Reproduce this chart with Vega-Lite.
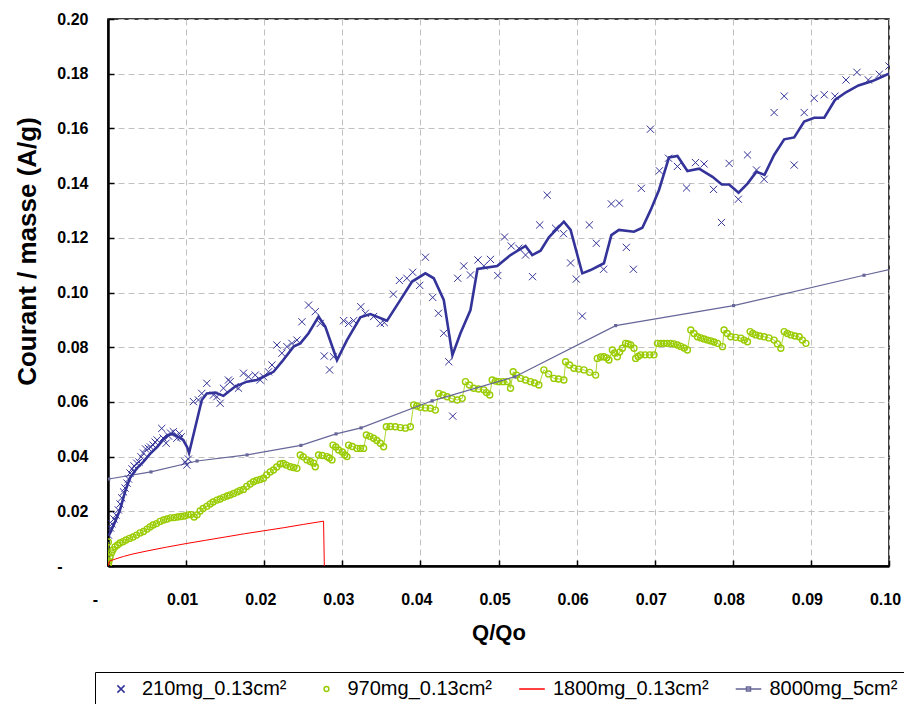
{
"$schema":"https://vega.github.io/schema/vega-lite/v6.json",
"width":781,"height":547,
"autosize":{"type":"none"},
"padding":{"left":108,"top":19,"right":15,"bottom":138},
"background":"white",
"config":{
 "view":{"stroke":"#000","strokeWidth":1.5},
 "axis":{"domainColor":"#000","domainWidth":2.5,"tickColor":"#000","tickWidth":1.5,"tickSize":-6,"gridColor":"#c0c0c0","gridDash":[6,4],"gridWidth":1,"labelFont":"Liberation Sans","labelFontWeight":"bold","labelFontSize":16,"labelColor":"#000","titleFont":"Liberation Sans","titleFontWeight":"bold","titleColor":"#000"}
},
"datasets":{
"s210":[{"x":0.00006,"y":0.0113},{"x":0.00032,"y":0.0139},{"x":0.00051,"y":0.0154},{"x":0.00077,"y":0.0172},{"x":0.00103,"y":0.0186},{"x":0.00132,"y":0.0205},{"x":0.00154,"y":0.0227},{"x":0.00176,"y":0.0249},{"x":0.00199,"y":0.0271},{"x":0.00218,"y":0.0285},{"x":0.00244,"y":0.0303},{"x":0.00263,"y":0.0318},{"x":0.00282,"y":0.034},{"x":0.00308,"y":0.0355},{"x":0.00333,"y":0.0366},{"x":0.00368,"y":0.0376},{"x":0.00397,"y":0.038},{"x":0.00423,"y":0.0399},{"x":0.00453,"y":0.0413},{"x":0.00481,"y":0.0428},{"x":0.00517,"y":0.043},{"x":0.00545,"y":0.0435},{"x":0.00577,"y":0.0442},{"x":0.00603,"y":0.0453},{"x":0.00628,"y":0.0461},{"x":0.00688,"y":0.0503},{"x":0.00705,"y":0.0468},{"x":0.00744,"y":0.0449},{"x":0.00776,"y":0.0475},{"x":0.00801,"y":0.0486},{"x":0.00837,"y":0.0491},{"x":0.00881,"y":0.0467},{"x":0.00914,"y":0.0485},{"x":0.00936,"y":0.0472},{"x":0.00987,"y":0.0381},{"x":0.01009,"y":0.0369},{"x":0.01029,"y":0.0391},{"x":0.01094,"y":0.0601},{"x":0.01158,"y":0.0607},{"x":0.01201,"y":0.0631},{"x":0.01265,"y":0.0668},{"x":0.0135,"y":0.0625},{"x":0.01394,"y":0.0619},{"x":0.01436,"y":0.0595},{"x":0.01478,"y":0.065},{"x":0.01542,"y":0.068},{"x":0.01564,"y":0.0674},{"x":0.01628,"y":0.0656},{"x":0.01671,"y":0.065},{"x":0.01735,"y":0.0705},{"x":0.01799,"y":0.0692},{"x":0.01885,"y":0.0698},{"x":0.01949,"y":0.068},{"x":0.01991,"y":0.0692},{"x":0.02055,"y":0.071},{"x":0.02099,"y":0.0735},{"x":0.02163,"y":0.0808},{"x":0.02227,"y":0.0778},{"x":0.02291,"y":0.0802},{"x":0.02355,"y":0.0814},{"x":0.02419,"y":0.0826},{"x":0.02483,"y":0.0893},{"x":0.02568,"y":0.0954},{"x":0.02654,"y":0.093},{"x":0.02718,"y":0.0887},{"x":0.02769,"y":0.0768},{"x":0.02837,"y":0.0717},{"x":0.02888,"y":0.0765},{"x":0.03017,"y":0.0897},{"x":0.03081,"y":0.0887},{"x":0.03145,"y":0.0897},{"x":0.03237,"y":0.0948},{"x":0.03295,"y":0.0924},{"x":0.03401,"y":0.0912},{"x":0.03487,"y":0.0887},{"x":0.03538,"y":0.089},{"x":0.03654,"y":0.0994},{"x":0.03731,"y":0.1044},{"x":0.03827,"y":0.1052},{"x":0.03901,"y":0.1074},{"x":0.03991,"y":0.1026},{"x":0.04064,"y":0.1129},{"x":0.04158,"y":0.0982},{"x":0.04231,"y":0.0924},{"x":0.04299,"y":0.0851},{"x":0.04363,"y":0.0747},{"x":0.04414,"y":0.0548},{"x":0.04478,"y":0.1052},{"x":0.04555,"y":0.1097},{"x":0.04641,"y":0.1064},{"x":0.04737,"y":0.1119},{"x":0.04812,"y":0.1097},{"x":0.04897,"y":0.1121},{"x":0.04991,"y":0.1062},{"x":0.05077,"y":0.1203},{"x":0.05163,"y":0.117},{"x":0.0526,"y":0.1162},{"x":0.05346,"y":0.1137},{"x":0.05436,"y":0.1058},{"x":0.05528,"y":0.1247},{"x":0.05624,"y":0.1356},{"x":0.05731,"y":0.1235},{"x":0.05833,"y":0.1215},{"x":0.05923,"y":0.1108},{"x":0.05996,"y":0.1049},{"x":0.06073,"y":0.0914},{"x":0.06163,"y":0.1247},{"x":0.06253,"y":0.118},{"x":0.06346,"y":0.1085},{"x":0.06445,"y":0.1324},{"x":0.06547,"y":0.1327},{"x":0.06637,"y":0.1165},{"x":0.06727,"y":0.1085},{"x":0.06829,"y":0.1381},{"x":0.06945,"y":0.1597},{"x":0.0706,"y":0.1445},{"x":0.07177,"y":0.1491},{"x":0.07291,"y":0.1461},{"x":0.07408,"y":0.1382},{"x":0.07522,"y":0.1475},{"x":0.07632,"y":0.147},{"x":0.07753,"y":0.1377},{"x":0.07855,"y":0.1256},{"x":0.07953,"y":0.1472},{"x":0.08071,"y":0.1341},{"x":0.08188,"y":0.1503},{"x":0.08304,"y":0.1448},{"x":0.08401,"y":0.1414},{"x":0.08529,"y":0.1658},{"x":0.08658,"y":0.1718},{"x":0.08786,"y":0.1466},{"x":0.08914,"y":0.1658},{"x":0.09042,"y":0.171},{"x":0.09171,"y":0.1723},{"x":0.09308,"y":0.1718},{"x":0.09449,"y":0.1777},{"x":0.0959,"y":0.1805},{"x":0.09735,"y":0.1777},{"x":0.09876,"y":0.1798},{"x":0.1,"y":0.1828}],
"trend":[{"x":0.00013,"y":0.0113},{"x":0.0009,"y":0.0161},{"x":0.00154,"y":0.0205},{"x":0.00218,"y":0.0271},{"x":0.00282,"y":0.0322},{"x":0.00372,"y":0.0358},{"x":0.00449,"y":0.038},{"x":0.00538,"y":0.041},{"x":0.00628,"y":0.0435},{"x":0.00705,"y":0.0461},{"x":0.00769,"y":0.0479},{"x":0.00833,"y":0.0483},{"x":0.00897,"y":0.0472},{"x":0.00962,"y":0.0461},{"x":0.01013,"y":0.0435},{"x":0.01038,"y":0.0413},{"x":0.01201,"y":0.0607},{"x":0.01265,"y":0.0631},{"x":0.01372,"y":0.0634},{"x":0.01478,"y":0.0622},{"x":0.01628,"y":0.0656},{"x":0.01778,"y":0.0674},{"x":0.01906,"y":0.068},{"x":0.01991,"y":0.0692},{"x":0.02119,"y":0.071},{"x":0.02227,"y":0.0747},{"x":0.02376,"y":0.0802},{"x":0.02462,"y":0.0814},{"x":0.02568,"y":0.0851},{"x":0.02696,"y":0.0912},{"x":0.02782,"y":0.0875},{"x":0.02932,"y":0.0753},{"x":0.0306,"y":0.0826},{"x":0.03231,"y":0.0909},{"x":0.03359,"y":0.0921},{"x":0.03573,"y":0.0897},{"x":0.03744,"y":0.0973},{"x":0.03894,"y":0.104},{"x":0.04064,"y":0.107},{"x":0.04171,"y":0.1052},{"x":0.04299,"y":0.0973},{"x":0.0441,"y":0.0771},{"x":0.04513,"y":0.0851},{"x":0.04641,"y":0.0936},{"x":0.04731,"y":0.1086},{"x":0.04983,"y":0.1097},{"x":0.05154,"y":0.1137},{"x":0.05346,"y":0.117},{"x":0.05432,"y":0.1137},{"x":0.05538,"y":0.1153},{"x":0.05645,"y":0.1202},{"x":0.05837,"y":0.1259},{"x":0.05923,"y":0.1229},{"x":0.06073,"y":0.107},{"x":0.06179,"y":0.1082},{"x":0.0635,"y":0.1107},{"x":0.06445,"y":0.121},{"x":0.06542,"y":0.1229},{"x":0.06735,"y":0.1222},{"x":0.06842,"y":0.1237},{"x":0.06949,"y":0.1302},{"x":0.07055,"y":0.1375},{"x":0.07183,"y":0.1494},{"x":0.07291,"y":0.1499},{"x":0.07419,"y":0.1444},{"x":0.07568,"y":0.1453},{"x":0.0774,"y":0.1423},{"x":0.07859,"y":0.1395},{"x":0.07953,"y":0.1395},{"x":0.08074,"y":0.1365},{"x":0.08188,"y":0.1398},{"x":0.08301,"y":0.1441},{"x":0.08406,"y":0.143},{"x":0.08529,"y":0.1503},{"x":0.08658,"y":0.156},{"x":0.08786,"y":0.1567},{"x":0.08914,"y":0.1625},{"x":0.09042,"y":0.1639},{"x":0.09171,"y":0.1639},{"x":0.09308,"y":0.1704},{"x":0.09449,"y":0.1732},{"x":0.09609,"y":0.1757},{"x":0.09788,"y":0.1773},{"x":0.09897,"y":0.1787},{"x":0.1,"y":0.18}],
"s970":[{"x":0.00004,"y":0.0088},{"x":0.00006,"y":0.0007},{"x":0.00013,"y":0.0018},{"x":0.00026,"y":0.0033},{"x":0.00045,"y":0.0048},{"x":0.00064,"y":0.0059},{"x":0.0009,"y":0.007},{"x":0.00122,"y":0.0077},{"x":0.00154,"y":0.0084},{"x":0.00192,"y":0.0089},{"x":0.00231,"y":0.0095},{"x":0.00276,"y":0.0101},{"x":0.00321,"y":0.0106},{"x":0.00365,"y":0.0113},{"x":0.0041,"y":0.0121},{"x":0.00455,"y":0.0126},{"x":0.005,"y":0.0135},{"x":0.00538,"y":0.0143},{"x":0.00577,"y":0.015},{"x":0.00622,"y":0.0155},{"x":0.00667,"y":0.0163},{"x":0.00712,"y":0.0168},{"x":0.00756,"y":0.0172},{"x":0.00801,"y":0.0176},{"x":0.00846,"y":0.0177},{"x":0.00891,"y":0.0179},{"x":0.00936,"y":0.0181},{"x":0.00981,"y":0.0183},{"x":0.01026,"y":0.0187},{"x":0.01064,"y":0.0188},{"x":0.01103,"y":0.0179},{"x":0.01141,"y":0.0187},{"x":0.01179,"y":0.0201},{"x":0.01218,"y":0.021},{"x":0.01265,"y":0.0218},{"x":0.01308,"y":0.0227},{"x":0.01346,"y":0.0234},{"x":0.01394,"y":0.0241},{"x":0.01436,"y":0.0245},{"x":0.01481,"y":0.0251},{"x":0.01526,"y":0.0256},{"x":0.01564,"y":0.026},{"x":0.01609,"y":0.0265},{"x":0.01654,"y":0.0271},{"x":0.01692,"y":0.0276},{"x":0.01735,"y":0.028},{"x":0.01776,"y":0.0291},{"x":0.01821,"y":0.03},{"x":0.01863,"y":0.0308},{"x":0.01904,"y":0.0313},{"x":0.01949,"y":0.0316},{"x":0.01991,"y":0.0321},{"x":0.02032,"y":0.0333},{"x":0.02077,"y":0.0344},{"x":0.02119,"y":0.0351},{"x":0.0216,"y":0.0362},{"x":0.02205,"y":0.0373},{"x":0.02244,"y":0.0375},{"x":0.02282,"y":0.0369},{"x":0.02333,"y":0.0363},{"x":0.02376,"y":0.036},{"x":0.02419,"y":0.0357},{"x":0.02462,"y":0.0406},{"x":0.025,"y":0.0399},{"x":0.02547,"y":0.0388},{"x":0.0259,"y":0.0382},{"x":0.02632,"y":0.0376},{"x":0.02654,"y":0.0363},{"x":0.02696,"y":0.0406},{"x":0.02744,"y":0.0404},{"x":0.02804,"y":0.04},{"x":0.02833,"y":0.0395},{"x":0.02868,"y":0.0388},{"x":0.02881,"y":0.0442},{"x":0.02917,"y":0.0435},{"x":0.02953,"y":0.0424},{"x":0.03,"y":0.0417},{"x":0.03032,"y":0.0406},{"x":0.0306,"y":0.04},{"x":0.03081,"y":0.0442},{"x":0.03128,"y":0.0437},{"x":0.03188,"y":0.043},{"x":0.03231,"y":0.043},{"x":0.03273,"y":0.043},{"x":0.03308,"y":0.0479},{"x":0.03353,"y":0.0474},{"x":0.03401,"y":0.0467},{"x":0.03442,"y":0.0459},{"x":0.03487,"y":0.0449},{"x":0.03529,"y":0.0436},{"x":0.03564,"y":0.0509},{"x":0.03615,"y":0.051},{"x":0.03679,"y":0.0509},{"x":0.03744,"y":0.0506},{"x":0.03808,"y":0.0504},{"x":0.03872,"y":0.0509},{"x":0.03914,"y":0.0589},{"x":0.03955,"y":0.0585},{"x":0.04,"y":0.058},{"x":0.04064,"y":0.0578},{"x":0.04128,"y":0.0577},{"x":0.04192,"y":0.057},{"x":0.04235,"y":0.0631},{"x":0.04288,"y":0.0625},{"x":0.04342,"y":0.0619},{"x":0.04404,"y":0.0612},{"x":0.04471,"y":0.0607},{"x":0.04535,"y":0.0613},{"x":0.04577,"y":0.0674},{"x":0.04628,"y":0.0662},{"x":0.04683,"y":0.065},{"x":0.04744,"y":0.0647},{"x":0.04812,"y":0.0644},{"x":0.04846,"y":0.0634},{"x":0.04888,"y":0.0625},{"x":0.04919,"y":0.068},{"x":0.04962,"y":0.0676},{"x":0.05004,"y":0.0674},{"x":0.05058,"y":0.0674},{"x":0.05112,"y":0.0674},{"x":0.05154,"y":0.065},{"x":0.05188,"y":0.071},{"x":0.05231,"y":0.0698},{"x":0.05282,"y":0.0686},{"x":0.05346,"y":0.068},{"x":0.0541,"y":0.0674},{"x":0.05462,"y":0.0669},{"x":0.05517,"y":0.0662},{"x":0.05581,"y":0.0717},{"x":0.05641,"y":0.0702},{"x":0.05709,"y":0.0686},{"x":0.05769,"y":0.0684},{"x":0.05837,"y":0.068},{"x":0.05859,"y":0.0747},{"x":0.0591,"y":0.0735},{"x":0.05965,"y":0.0723},{"x":0.06026,"y":0.072},{"x":0.06094,"y":0.0717},{"x":0.06167,"y":0.0708},{"x":0.06244,"y":0.0698},{"x":0.06265,"y":0.0759},{"x":0.06308,"y":0.0764},{"x":0.0635,"y":0.0765},{"x":0.06385,"y":0.0761},{"x":0.06414,"y":0.0753},{"x":0.06458,"y":0.079},{"x":0.06487,"y":0.0779},{"x":0.06522,"y":0.0765},{"x":0.06551,"y":0.0782},{"x":0.06586,"y":0.0796},{"x":0.06628,"y":0.0814},{"x":0.0666,"y":0.0812},{"x":0.06692,"y":0.0808},{"x":0.06735,"y":0.0796},{"x":0.06756,"y":0.0759},{"x":0.06788,"y":0.0766},{"x":0.06821,"y":0.0772},{"x":0.06878,"y":0.0772},{"x":0.06936,"y":0.0772},{"x":0.06991,"y":0.0772},{"x":0.07035,"y":0.0814},{"x":0.07077,"y":0.0814},{"x":0.07119,"y":0.0814},{"x":0.0716,"y":0.0814},{"x":0.07205,"y":0.0814},{"x":0.07247,"y":0.0812},{"x":0.07291,"y":0.0808},{"x":0.07333,"y":0.0803},{"x":0.07376,"y":0.0797},{"x":0.07419,"y":0.079},{"x":0.07462,"y":0.0863},{"x":0.07504,"y":0.085},{"x":0.07547,"y":0.0838},{"x":0.0759,"y":0.0834},{"x":0.07632,"y":0.083},{"x":0.07676,"y":0.0826},{"x":0.07718,"y":0.0823},{"x":0.0776,"y":0.0819},{"x":0.07804,"y":0.0814},{"x":0.07868,"y":0.0802},{"x":0.07888,"y":0.0863},{"x":0.07929,"y":0.085},{"x":0.07974,"y":0.0838},{"x":0.08038,"y":0.0836},{"x":0.08103,"y":0.0833},{"x":0.08145,"y":0.0826},{"x":0.08188,"y":0.082},{"x":0.08222,"y":0.0857},{"x":0.08256,"y":0.085},{"x":0.08295,"y":0.0845},{"x":0.08346,"y":0.0841},{"x":0.08401,"y":0.0838},{"x":0.08462,"y":0.0834},{"x":0.08529,"y":0.0826},{"x":0.08571,"y":0.0812},{"x":0.08615,"y":0.0796},{"x":0.08658,"y":0.0857},{"x":0.08699,"y":0.085},{"x":0.08744,"y":0.0845},{"x":0.08795,"y":0.0841},{"x":0.0885,"y":0.0838},{"x":0.08891,"y":0.0826},{"x":0.08936,"y":0.0814}],
"s1800":[{"x":0,"y":0},{"x":0.0002,"y":0.0018},{"x":0.001,"y":0.0026},{"x":0.002,"y":0.0035},{"x":0.0032,"y":0.0044},{"x":0.005,"y":0.0055},{"x":0.0075,"y":0.0069},{"x":0.01,"y":0.0082},{"x":0.0125,"y":0.0094},{"x":0.015,"y":0.0106},{"x":0.0175,"y":0.0118},{"x":0.02,"y":0.0129},{"x":0.0225,"y":0.014},{"x":0.025,"y":0.0152},{"x":0.0276,"y":0.0164},{"x":0.0277,"y":0}],
"s8000":[{"x":0.0001,"y":0.0318},{"x":0.0055,"y":0.0344},{"x":0.0114,"y":0.0384},{"x":0.0178,"y":0.0406},{"x":0.0247,"y":0.0441},{"x":0.0292,"y":0.0483},{"x":0.0324,"y":0.0505},{"x":0.0415,"y":0.0604},{"x":0.0521,"y":0.0692},{"x":0.065,"y":0.0879},{"x":0.0801,"y":0.0952},{"x":0.0968,"y":0.1063},{"x":0.1035,"y":0.1107}]
},
"layer":[
{"data":{"name":"s970"},"mark":{"type":"line","color":"#99CC00","strokeWidth":0.8,"clip":true},
 "encoding":{
  "x":{"field":"x","type":"quantitative","scale":{"domain":[0,0.1],"nice":false,"zero":false},
   "axis":{"title":"Q/Qo","values":[0,0.01,0.02,0.03,0.04,0.05,0.06,0.07,0.08,0.09,0.1],"labelExpr":"datum.value == 0 ? '-' : format(datum.value, '.2f')","labelOffset":{"condition":{"test":"datum.value == 0","value":-13},"value":-4},"labelPadding":31,"labelFlush":false,"labelOverlap":false,"titleFontSize":22,"titlePadding":15,"grid":true}},
  "y":{"field":"y","type":"quantitative","scale":{"domain":[0,0.2],"nice":false,"zero":false},
   "axis":{"title":"Courant / masse (A/g)","values":[0,0.02,0.04,0.06,0.08,0.1,0.12,0.14,0.16,0.18,0.2],"labelExpr":"datum.value == 0 ? '-' : format(datum.value, '.2f')","labelPadding":{"condition":{"test":"datum.value == 0","value":52},"value":26},"labelFlush":false,"labelOverlap":false,"titleFontSize":26,"titlePadding":16,"titleY":232,"grid":true}}
 }},
{"data":{"name":"s970"},"mark":{"type":"point","shape":"circle","filled":false,"color":"#99CC00","size":36,"strokeWidth":1.4,"opacity":1,"clip":true},
 "encoding":{"x":{"field":"x","type":"quantitative"},"y":{"field":"y","type":"quantitative"}}},
{"data":{"name":"s1800"},"mark":{"type":"line","color":"#FF0000","strokeWidth":1,"clip":true},
 "encoding":{"x":{"field":"x","type":"quantitative"},"y":{"field":"y","type":"quantitative"}}},
{"data":{"name":"s8000"},"mark":{"type":"line","color":"#666699","strokeWidth":1.2,"clip":true},
 "encoding":{"x":{"field":"x","type":"quantitative"},"y":{"field":"y","type":"quantitative"}}},
{"data":{"name":"s8000"},"mark":{"type":"point","shape":"square","filled":true,"color":"#666699","size":10,"opacity":1,"clip":true},
 "encoding":{"x":{"field":"x","type":"quantitative"},"y":{"field":"y","type":"quantitative"}}},
{"data":{"name":"trend"},"mark":{"type":"line","color":"#333399","strokeWidth":2.6,"clip":true},
 "encoding":{"x":{"field":"x","type":"quantitative"},"y":{"field":"y","type":"quantitative"}}},
{"data":{"name":"s210"},"mark":{"type":"point","filled":false,"size":256,"strokeWidth":1,"opacity":1,"clip":true},
 "encoding":{"x":{"field":"x","type":"quantitative"},"y":{"field":"y","type":"quantitative"},
  "color":{"datum":"210mg_0.13cm²","type":"nominal","scale":{"domain":["210mg_0.13cm²","970mg_0.13cm²","1800mg_0.13cm²","8000mg_5cm²"],"range":["#333399","#99CC00","#FF0000","#666699"]},
   "legend":{"orient":"none","legendX":-13,"legendY":653,"direction":"horizontal","columns":4,"title":null,"strokeColor":"#000","fillColor":"#fff","padding":7,"symbolSize":256,"symbolStrokeWidth":1.5,"symbolOffset":9,"labelOffset":11,"columnPadding":20.5,"labelFont":"Liberation Sans","labelFontSize":20,"labelColor":"#000","labelLimit":300}},
  "shape":{"datum":"210mg_0.13cm²","type":"nominal","scale":{"domain":["210mg_0.13cm²","970mg_0.13cm²","1800mg_0.13cm²","8000mg_5cm²"],"range":["M-0.45,-0.45L0.45,0.45M-0.45,0.45L0.45,-0.45","M-0.3,0A0.3,0.3,0,1,0,0.3,0A0.3,0.3,0,1,0,-0.3,0","M-1.6,0L1.6,0","M-1.6,0L1.6,0M-0.25,-0.25L0.25,-0.25L0.25,0.25L-0.25,0.25Z"]},
   "legend":{"orient":"none","legendX":-13,"legendY":653,"direction":"horizontal","columns":4,"title":null,"strokeColor":"#000","fillColor":"#fff","padding":7,"symbolSize":256,"symbolStrokeWidth":1.5,"symbolOffset":9,"labelOffset":11,"columnPadding":20.5,"labelFont":"Liberation Sans","labelFontSize":20,"labelColor":"#000","labelLimit":300}}
 }}
]
}
